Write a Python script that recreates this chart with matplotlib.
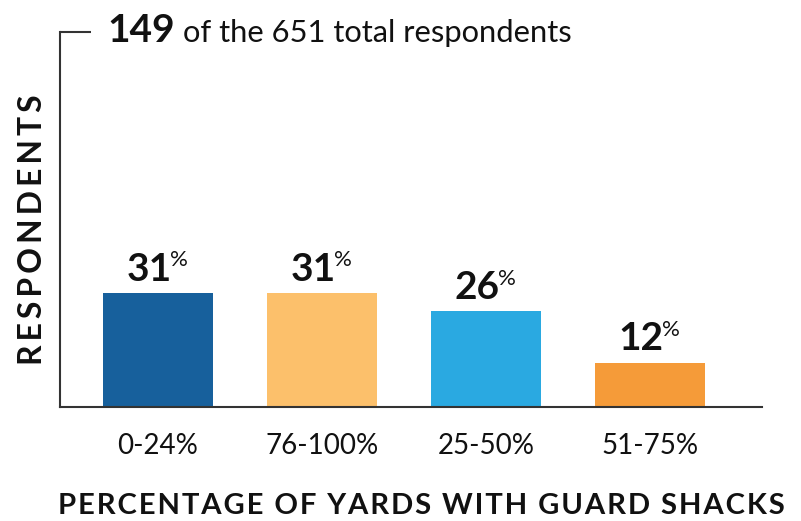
import matplotlib
matplotlib.use("Agg")
import matplotlib.pyplot as plt

# ---------------------------------------------------------------------------
# Data
# ---------------------------------------------------------------------------

categories = ["0-24%", "76-100%", "25-50%", "51-75%"]
shares = [31, 31, 26, 12]
bar_colors = ["#17609c", "#fcc06b", "#2aa9e1", "#f59b39"]
subset_n = 149
total_n = 651
x_title = "PERCENTAGE OF YARDS WITH GUARD SHACKS"
y_title = "RESPONDENTS"

# ---------------------------------------------------------------------------
# Helpers
# ---------------------------------------------------------------------------

plt.rcParams["font.family"] = ["Lato", "DejaVu Sans"]
W, H = 801, 521
INK = "#111111"
HAIR, THIN = "\u200a", "\u2009"


def text_w(renderer, fig, s, size, weight):
    """Width in pixels of a string."""
    t = fig.text(0, 0, s, fontsize=size, fontweight=weight)
    w = t.get_window_extent(renderer).width
    t.remove()
    return w


def fitted_text(fig, renderer, s, x_px, y_px, width_px, size, weight, spacer="", **kw):
    """Draw s (letters joined by spacer) sized so it spans width_px pixels.

    x_px, y_px are pixel coords measured from the top-left corner."""
    s = spacer.join(s)
    size = size * width_px / text_w(renderer, fig, s, size, weight)
    return fig.text(x_px / W, (H - y_px) / H, s, fontsize=size, fontweight=weight,
                    color=INK, **kw)


# ---------------------------------------------------------------------------
# Figure
# ---------------------------------------------------------------------------

fig = plt.figure(figsize=(W / 100, H / 100), dpi=100)
renderer = fig.canvas.get_renderer()
ax = fig.add_axes([60 / W, 114 / H, 702 / W, 375 / H])

x = list(range(len(categories)))
ax.bar(x, shares, width=0.671, color=bar_colors, zorder=2)
ax.set_xlim(-0.598, 3.683)
ax.set_ylim(0, 102)

for sp in ("top", "right"):
    ax.spines[sp].set_visible(False)
for sp in ("left", "bottom"):
    ax.spines[sp].set_color("#333333")
    ax.spines[sp].set_linewidth(1.5)

ax.set_xticks(x)
ax.set_xticklabels(categories, fontsize=20, color=INK)
ax.tick_params(axis="x", length=0, pad=19)
ax.set_yticks([102])
ax.tick_params(axis="y", direction="in", length=22, width=1.5, color="#333333",
               labelleft=False)

# value labels: bold number + small raised percent sign, centred together
num_size, pct_size = 28, 16
pct_w = text_w(renderer, fig, "%", pct_size, "normal")
for xi, v in zip(x, shares):
    num_w = text_w(renderer, fig, str(v), num_size, "bold")
    shift = -(num_w + pct_w) / 2 * 72 / 100
    num = ax.annotate(str(v), xy=(xi, v), xytext=(shift, 9), textcoords="offset points",
                      ha="left", va="baseline", fontsize=num_size, fontweight="bold",
                      color=INK)
    ax.annotate("%", xy=(1, 1), xycoords=num, xytext=(-1, 1), textcoords="offset points",
                ha="left", va="top", fontsize=pct_size, color=INK)

# axis titles, letter-spaced
fitted_text(fig, renderer, x_title, 58, 514, 727, 21, "bold", spacer=HAIR,
            ha="left", va="baseline")
fitted_text(fig, renderer, y_title, 33, 230, 270, 21, "bold", spacer=THIN,
            ha="center", va="center", rotation=90)

# headline
fig.text(107 / W, (H - 42) / H, str(subset_n), ha="left", va="baseline",
         fontsize=28, fontweight="bold", color=INK)
fitted_text(fig, renderer, f"of the {total_n} total respondents", 183, 42, 390, 21,
            "normal", ha="left", va="baseline")

fig.savefig("out.png", dpi=100)
